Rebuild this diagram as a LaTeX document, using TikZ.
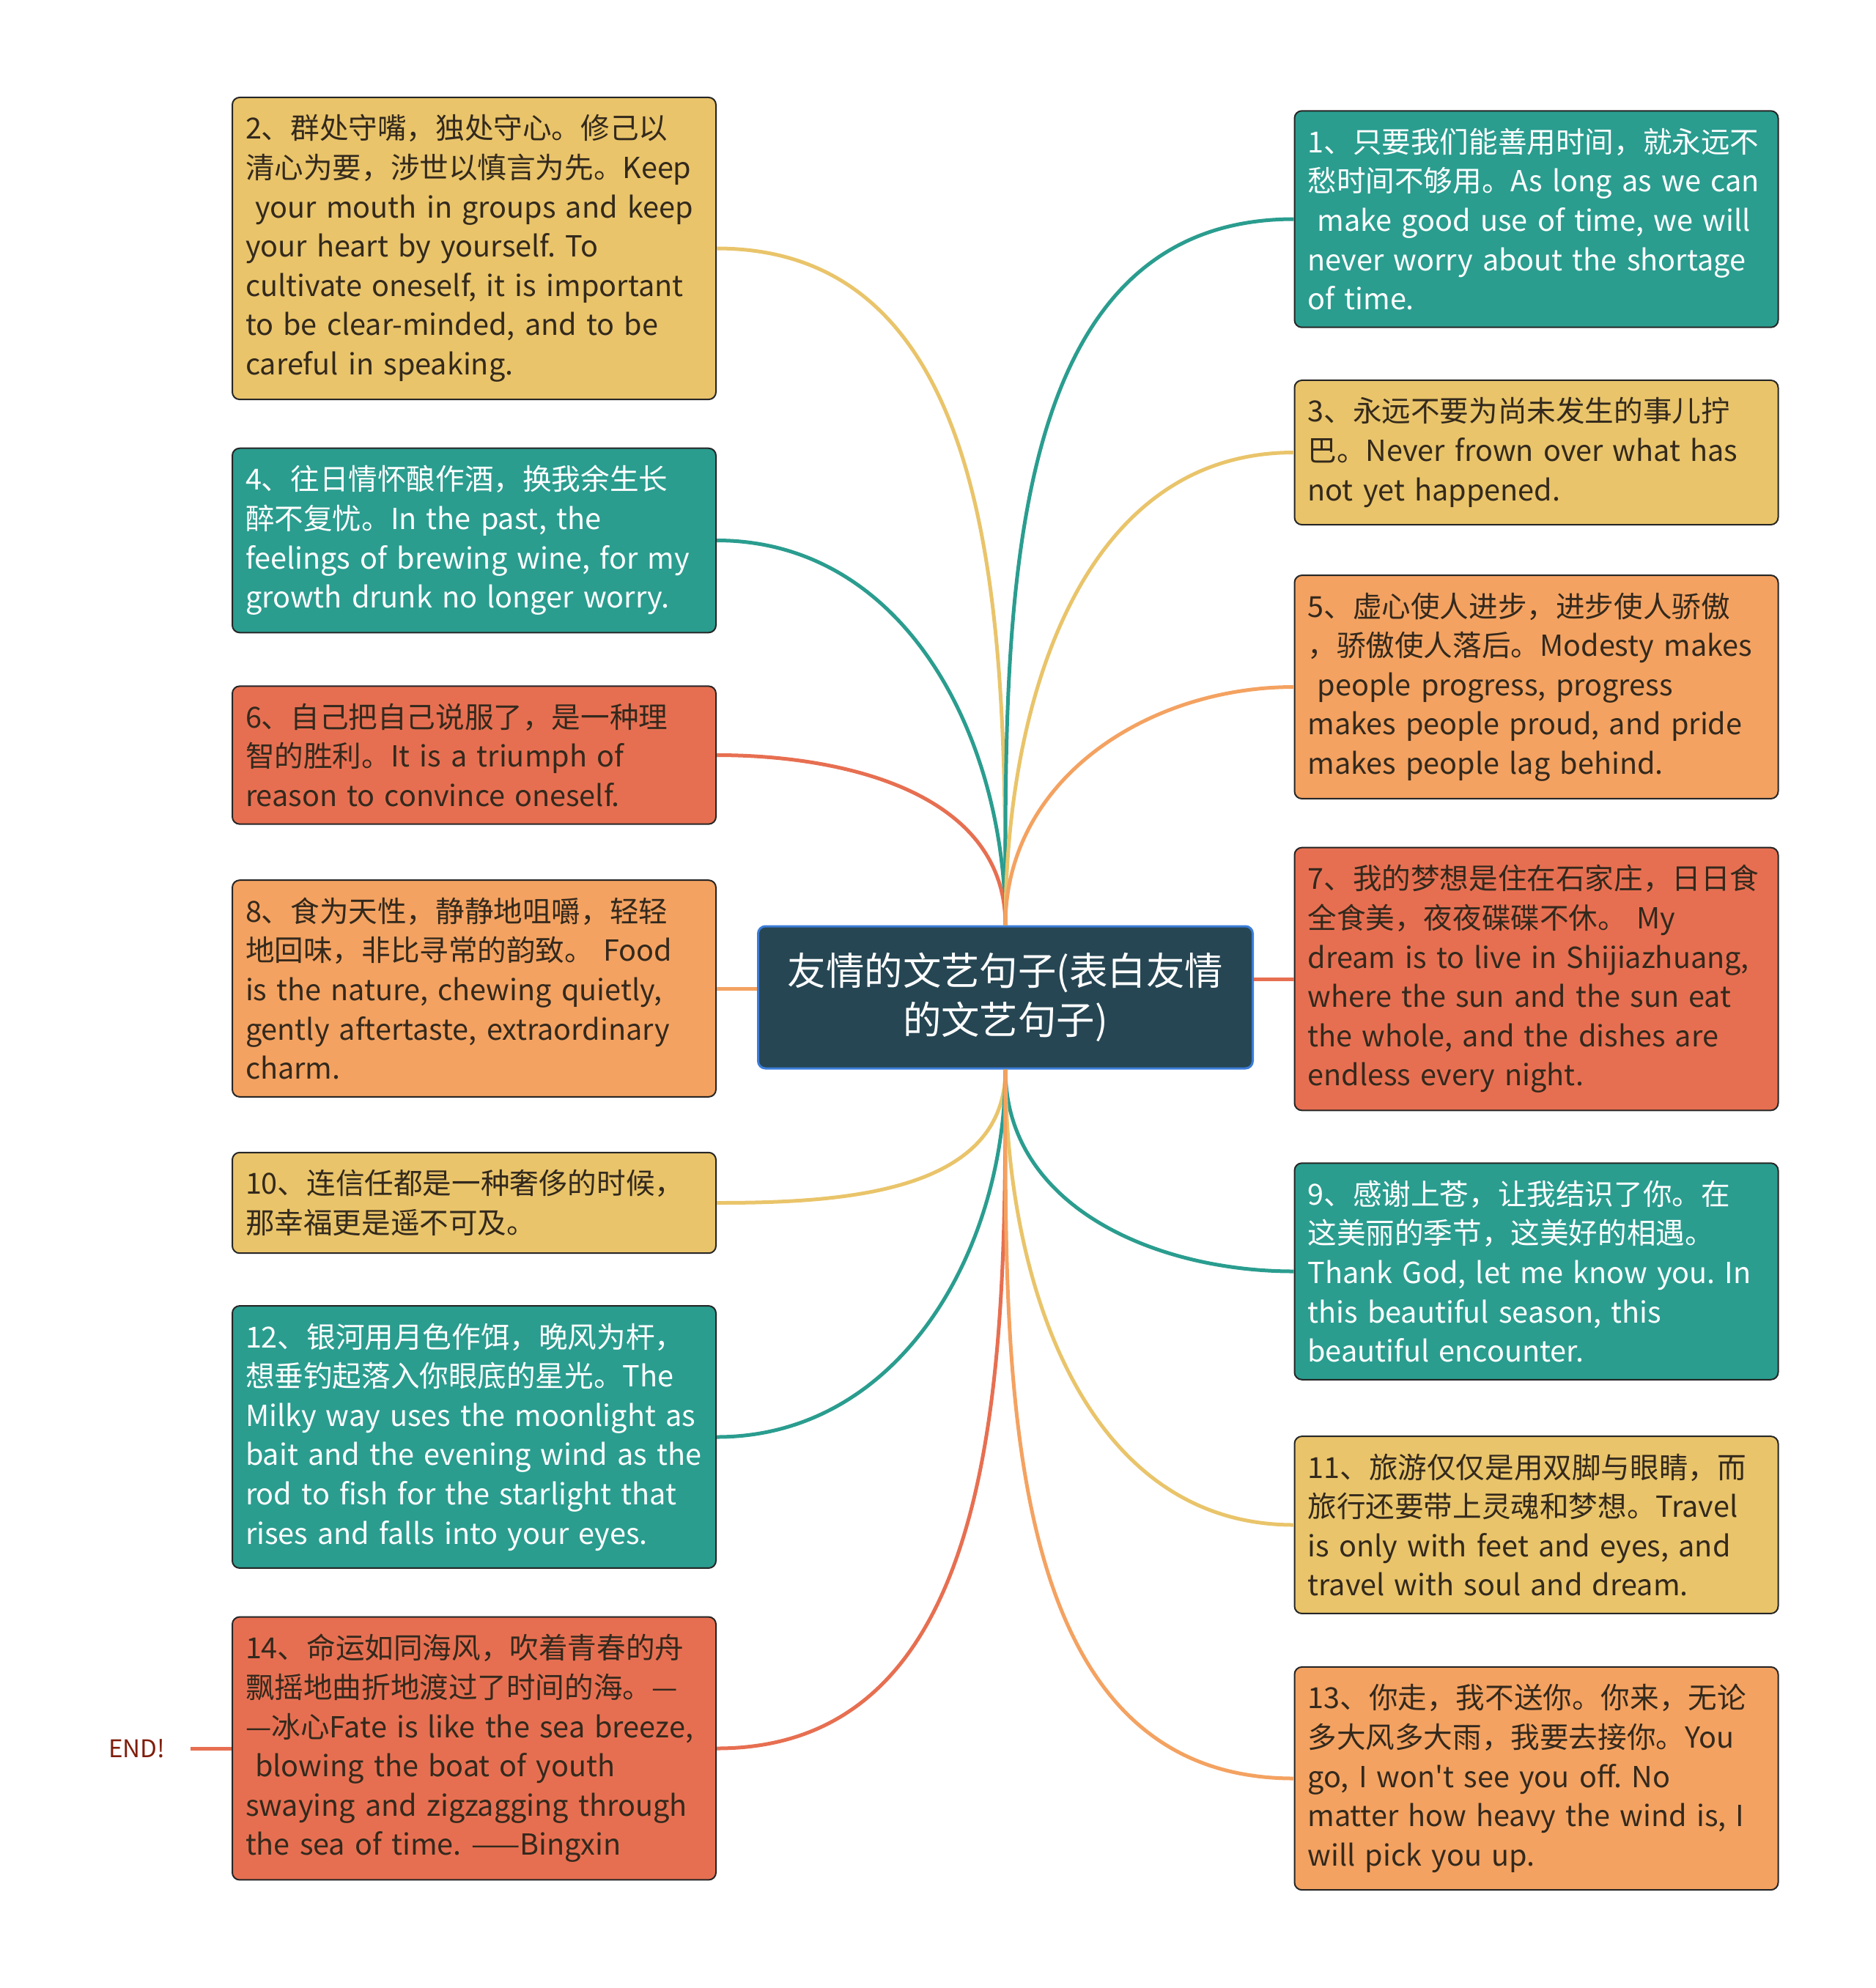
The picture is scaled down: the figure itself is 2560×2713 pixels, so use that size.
\documentclass[tikz,border=0pt]{standalone}
\usepackage{fontspec}
\setmainfont{Noto Sans CJK SC}[Ligatures=TeXOff]
\frenchspacing
\usetikzlibrary{positioning}
\definecolor{mapteal}{HTML}{2A9D8F}
\definecolor{mapyellow}{HTML}{E9C46A}
\definecolor{maporange}{HTML}{F4A261}
\definecolor{mapred}{HTML}{E76F51}
\definecolor{mapdark}{HTML}{264653}
\definecolor{mapborder}{HTML}{3B7DD8}
\definecolor{ink}{HTML}{33291D}
\definecolor{endred}{HTML}{7F1D0B}
\begin{document}
\begin{tikzpicture}[x=0.25pt,y=-0.25pt,
leaf/.style={draw=black!85,line width=0.5pt,rounded corners=2.5pt,text width=156pt,
  inner xsep=4.5pt,inner ysep=5.9pt,align=left,text=ink,
  font=\fontsize{9.9}{13.4}\selectfont},
light/.style={leaf,text=white},
link/.style={line width=1.25pt}]
\useasboundingbox (0,0) rectangle (2560,2713);
\node[draw=mapborder,fill=mapdark,line width=0.75pt,rounded corners=2.5pt,text=white,
  minimum width=168.75pt,minimum height=48.5pt,align=center,
  font=\fontsize{13.1}{16.9}\selectfont] (root) at (1372,1361) {友情的文艺句子(表白友情\\的文艺句子)};
\node[leaf,fill=mapyellow] (b2) at (647,339) {2、群处守嘴，独处守心。修己以\\清心为要，涉世以慎言为先。Keep\\\ your mouth in groups and keep\\your heart by yourself. To\\cultivate oneself, it is important\\to be clear-minded, and to be\\careful in speaking.};
\node[light,fill=mapteal] (b4) at (647,737.5) {4、往日情怀酿作酒，换我余生长\\醉不复忧。In the past, the\\feelings of brewing wine, for my\\growth drunk no longer worry.};
\node[leaf,fill=mapred] (b6) at (647,1030.5) {6、自己把自己说服了，是一种理\\智的胜利。It is a triumph of\\reason to convince oneself.};
\node[leaf,fill=maporange] (b8) at (647,1349) {8、食为天性，静静地咀嚼，轻轻\\地回味，非比寻常的韵致。 Food\\is the nature, chewing quietly,\\gently aftertaste, extraordinary\\charm.};
\node[leaf,fill=mapyellow] (b10) at (647,1641.5) {10、连信任都是一种奢侈的时候，\\那幸福更是遥不可及。};
\node[light,fill=mapteal] (b12) at (647,1961) {12、银河用月色作饵，晚风为杆，\\想垂钓起落入你眼底的星光。The\\Milky way uses the moonlight as\\bait and the evening wind as the\\rod to fish for the starlight that\\rises and falls into your eyes.};
\node[leaf,fill=mapred] (b14) at (647,2386) {14、命运如同海风，吹着青春的舟\\飘摇地曲折地渡过了时间的海。—\\—冰心Fate is like the sea breeze,\\\ blowing the boat of youth\\swaying and zigzagging through\\the sea of time. ——Bingxin};
\node[light,fill=mapteal] (b1) at (2096.5,299) {1、只要我们能善用时间，就永远不\\愁时间不够用。As long as we can\\\ make good use of time, we will\\never worry about the shortage\\of time.};
\node[leaf,fill=mapyellow] (b3) at (2096.5,617.5) {3、永远不要为尚未发生的事儿拧\\巴。Never frown over what has\\not yet happened.};
\node[leaf,fill=maporange] (b5) at (2096.5,937.5) {5、虚心使人进步，进步使人骄傲\\，骄傲使人落后。Modesty makes\\\ people progress, progress\\makes people proud, and pride\\makes people lag behind.};
\node[leaf,fill=mapred] (b7) at (2096.5,1336) {7、我的梦想是住在石家庄，日日食\\全食美，夜夜碟碟不休。 My\\dream is to live in Shijiazhuang,\\where the sun and the sun eat\\the whole, and the dishes are\\endless every night.};
\node[light,fill=mapteal] (b9) at (2096.5,1735) {9、感谢上苍，让我结识了你。在\\这美丽的季节，这美好的相遇。\\Thank God, let me know you. In\\this beautiful season, this\\beautiful encounter.};
\node[leaf,fill=mapyellow] (b11) at (2096.5,2081) {11、旅游仅仅是用双脚与眼睛，而\\旅行还要带上灵魂和梦想。Travel\\is only with feet and eyes, and\\travel with soul and dream.};
\node[leaf,fill=maporange] (b13) at (2096.5,2427) {13、你走，我不送你。你来，无论\\多大风多大雨，我要去接你。You\\go, I won't see you off. No\\matter how heavy the wind is, I\\will pick you up.};
\node[text=endred,inner sep=0pt,font=\fontsize{8.3}{10}\selectfont] (end) at (187,2386) {END!};
\draw[link,mapyellow] (root.north) to[out=90,in=0] (b2.east);
\draw[link,mapteal] (root.north) to[out=90,in=0] (b4.east);
\draw[link,mapred] (root.north) to[out=90,in=0] (b6.east);
\draw[link,maporange] (b8.east) -- (b8.east -| root.west);
\draw[link,mapyellow] (root.south) to[out=-90,in=0] (b10.east);
\draw[link,mapteal] (root.south) to[out=-90,in=0] (b12.east);
\draw[link,mapred] (root.south) to[out=-90,in=0] (b14.east);
\draw[link,mapteal] (root.north) to[out=90,in=180] (b1.west);
\draw[link,mapyellow] (root.north) to[out=90,in=180] (b3.west);
\draw[link,maporange] (root.north) to[out=90,in=180] (b5.west);
\draw[link,mapred] (root.east |- b7.west) -- (b7.west);
\draw[link,mapteal] (root.south) to[out=-90,in=180] (b9.west);
\draw[link,mapyellow] (root.south) to[out=-90,in=180] (b11.west);
\draw[link,maporange] (root.south) to[out=-90,in=180] (b13.west);
\draw[link,mapred,shorten >=8.5pt] (b14.west) -- (end.east);
\end{tikzpicture}
\end{document}
